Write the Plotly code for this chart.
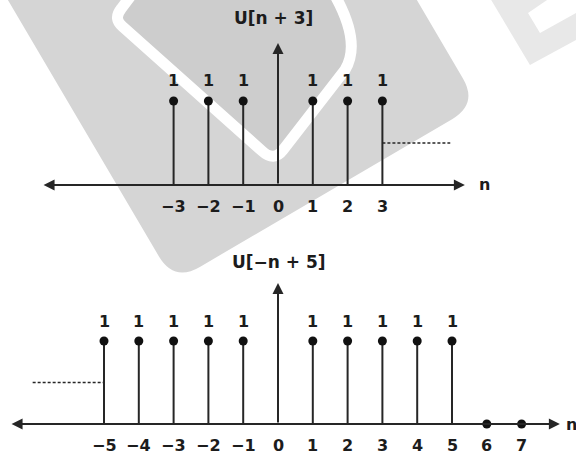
import plotly.graph_objects as go

# ---- signal data -------------------------------------------------------
# x[n] = U[n + 3]
top_n = [-3, -2, -1, 1, 2, 3]
top_val = [1, 1, 1, 1, 1, 1]
top_ticks = [-3, -2, -1, 0, 1, 2, 3]
top_cont_n = [3, 4.95]          # dotted continuation to the right
top_cont_val = [0.5, 0.5]

# x[n] = U[-n + 5]
bot_n = [-5, -4, -3, -2, -1, 1, 2, 3, 4, 5, 6, 7]
bot_val = [1, 1, 1, 1, 1, 1, 1, 1, 1, 1, 0, 0]
bot_ticks = [-5, -4, -3, -2, -1, 0, 1, 2, 3, 4, 5, 6, 7]
bot_cont_n = [-7.05, -5]        # dotted continuation to the left
bot_cont_val = [0.5, 0.5]

W, H = 576, 455
INK = "#262626"
FONT = "DejaVu Sans"

def fmt(v):
    return str(v).replace("-", "\u2212")

def stems(ns, vs):
    xs, ys = [], []
    for n, v in zip(ns, vs):
        xs += [n, n, None]
        ys += [0, v, None]
    return xs, ys

fig = go.Figure()

for ns, vs, cn, cv, xa, ya in [
    (top_n, top_val, top_cont_n, top_cont_val, "x", "y"),
    (bot_n, bot_val, bot_cont_n, bot_cont_val, "x2", "y2"),
]:
    sx, sy = stems(ns, vs)
    fig.add_trace(go.Scatter(x=sx, y=sy, mode="lines", xaxis=xa, yaxis=ya,
                             line=dict(color=INK, width=2), hoverinfo="skip"))
    fig.add_trace(go.Scatter(x=ns, y=vs, mode="markers", xaxis=xa, yaxis=ya,
                             marker=dict(color="#111", size=9)))
    fig.add_trace(go.Scatter(x=cn, y=cv, mode="lines", xaxis=xa, yaxis=ya,
                             line=dict(color=INK, width=1.6, dash="3px,2px")))

# ---- axes (paper spans the full window, no margins) -------------------
split = 1 - 230 / H
xr = [-278 / 34.8, (W - 278) / 34.8]
hidden = dict(visible=False, fixedrange=True)
fig.update_layout(
    xaxis=dict(domain=[0, 1], range=xr, anchor="y", **hidden),
    yaxis=dict(domain=[split, 1], range=[-0.536, 2.202], anchor="x", **hidden),
    xaxis2=dict(domain=[0, 1], range=xr, anchor="y2", **hidden),
    yaxis2=dict(domain=[0, split], range=[-0.373, 2.337], anchor="x2", **hidden),
)

ann = []
arrow = dict(showarrow=True, arrowcolor=INK, arrowwidth=2, arrowhead=2,
             arrowsize=1.1, standoff=0, startstandoff=0, text="")

def axis_arrows(xa, ya, left, right, top):
    ann.append(dict(xref=xa, yref=ya, axref=xa, ayref=ya, x=right, y=0,
                    ax=left, ay=0, arrowside="end+start", startarrowhead=2,
                    startarrowsize=1.1, **arrow))
    ann.append(dict(xref=xa, yref=ya, axref=xa, ayref=ya, x=0, y=top,
                    ax=0, ay=0, **arrow))

axis_arrows("x", "y", -6.78, 5.37, 1.69)
axis_arrows("x2", "y2", -7.70, 8.10, 1.70)

label_font = dict(family=FONT, size=16, color="#1c1c1c")

def labels(xa, ya, ns, vs, ticks, title, title_y, n_x, title_shift, tick_shift):
    for n, v in zip(ns, vs):
        if v:
            ann.append(dict(xref=xa, yref=ya, x=n, y=v, yshift=20,
                            text=f"<b>{fmt(v)}</b>", showarrow=False,
                            font=label_font))
    for t in ticks:
        ann.append(dict(xref=xa, yref=ya, x=t, y=0, yshift=tick_shift,
                        yanchor="top", borderpad=0,
                        text=f"<b>{fmt(t)}</b>", showarrow=False,
                        font=label_font))
    ann.append(dict(xref=xa, yref=ya, x=0, y=title_y, xshift=title_shift,
                    text="<b>" + title + "</b>", showarrow=False,
                    font=dict(family=FONT, size=17, color="#1c1c1c")))
    ann.append(dict(xref=xa, yref=ya, x=n_x, y=0, xanchor="left",
                    text="<b>n</b>", showarrow=False,
                    font=dict(family=FONT, size=16, color="#1c1c1c")))

labels("x", "y", top_n, top_val, top_ticks, "U[n + 3]", 1.99, 5.72, -5, -11)
labels("x2", "y2", bot_n, bot_val, bot_ticks, "U[\u2212n + 5]", 1.95, 8.22, 1, -11)

# ---- background watermark ---------------------------------------------
def path(points, closed=True):
    def p(x, y):
        return f"{x / W:.4f},{1 - y / H:.4f}"
    s = ""
    for cmd, pts in points:
        s += cmd + " ".join(p(*q) for q in pts) + " "
    return s + ("Z" if closed else "")

outer = path([("M", [(2, -10)]), ("L", [(158.8, 256.2)]),
              ("Q", [(174, 282), (199.9, 266.9)]), ("L", [(452.1, 119.2)]),
              ("Q", [(478, 104), (462.8, 78.2)]), ("L", [(411, -10)])])
inner = path([("M", [(150, -30)]), ("L", [(121, 9)]),
              ("Q", [(113, 19), (123, 27)]), ("L", [(262, 151)]),
              ("Q", [(274, 162), (283, 150)]), ("L", [(345, 70)]),
              ("Q", [(362, 42), (333, -8)])])
light = path([("M", [(490, -2)]), ("L", [(530, 65)]), ("L", [(578, 39)]),
              ("L", [(578, -2)])])
notch = path([("M", [(528, 13)]), ("L", [(540, 33)]), ("L", [(578, 12)]),
              ("L", [(578, -2)]), ("L", [(550, -2)])])

fig.update_layout(shapes=[
    dict(type="path", xref="paper", yref="paper", path=outer,
         fillcolor="#d5d5d5", line=dict(width=0), layer="below"),
    dict(type="path", xref="paper", yref="paper", path=inner,
         fillcolor="#cdcdcd", line=dict(color="white", width=11), layer="below"),
    dict(type="path", xref="paper", yref="paper", path=light,
         fillcolor="#e8e8e8", line=dict(width=0), layer="below"),
    dict(type="path", xref="paper", yref="paper", path=notch,
         fillcolor="white", line=dict(width=0), layer="below"),
])

fig.update_layout(
    width=W, height=H, margin=dict(l=0, r=0, t=0, b=0),
    paper_bgcolor="white", plot_bgcolor="rgba(0,0,0,0)",
    showlegend=False, annotations=ann,
)

fig.write_html("out.html", config={"displayModeBar": False})
